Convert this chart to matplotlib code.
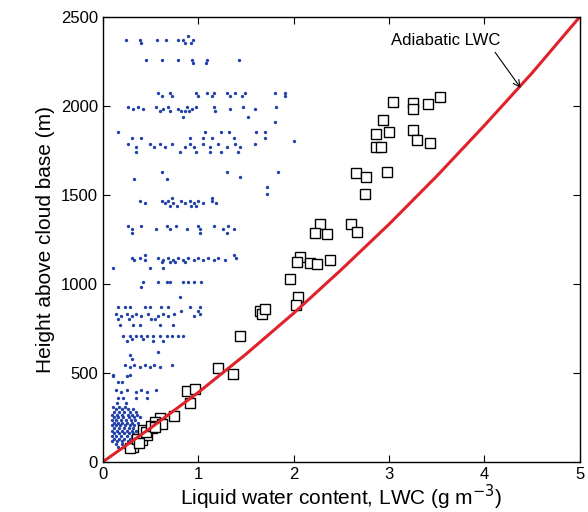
import matplotlib
matplotlib.use('Agg')
import matplotlib.pyplot as plt

plt.rcParams['font.family'] = ['Liberation Sans', 'DejaVu Sans']

# adiabatic LWC profile
adiabatic_lwc = [0, 0.5, 1, 1.5, 2, 2.5, 3, 3.5, 4, 4.5, 5]
adiabatic_height = [0, 190, 390, 605, 835, 1080, 1335, 1605, 1890, 2185, 2500]

# maximum observed LWC per level (open squares)
max_lwc = [3.04, 3.25, 3.25, 3.41, 3.53, 2.94, 3.00, 2.86, 2.86, 2.92, 3.25, 3.29,
           3.43, 2.65, 2.76, 2.98, 2.75, 2.28, 2.22, 2.35, 2.60, 2.66, 2.07, 2.04,
           2.17, 2.24, 2.38, 1.96, 2.05, 2.02, 1.65, 1.67, 1.70, 1.44, 1.21, 1.36,
           0.88, 0.97, 0.91, 0.75, 0.60, 0.55, 0.42, 0.41, 0.46, 0.32, 0.51, 0.28,
           0.36, 0.45, 0.50, 0.62, 0.38, 0.55]
max_height = [2024, 2019, 1985, 2009, 2052, 1918, 1856, 1843, 1767, 1770, 1862, 1809,
              1790, 1622, 1599, 1631, 1506, 1337, 1288, 1281, 1335, 1294, 1153, 1125,
              1116, 1110, 1135, 1030, 925, 882, 845, 832, 858, 708, 526, 493,
              399, 408, 330, 258, 245, 221, 180, 124, 152, 86, 189, 75,
              130, 165, 200, 215, 105, 195]

# individual samples, grouped by flight level
level_height = [2390, 2371, 2355, 2258, 2240, 2073, 2055, 1995, 1982, 1970, 1938, 1910,
                1854, 1820, 1800, 1788, 1770, 1742, 1629, 1600, 1590, 1545, 1506, 1480,
                1468, 1452, 1440, 1326, 1310, 1283, 1160, 1148, 1135, 1122, 1090, 1011,
                980, 927, 871, 850, 832, 818, 800, 770, 708, 690, 680, 618, 600, 580,
                545, 530, 488, 480, 450, 405, 390, 360, 330, 310, 295, 280, 265, 250,
                235, 220, 205, 190, 175, 160, 145, 130, 115, 100, 85]
level_lwc = [
    [0.89],
    [0.24, 0.39, 0.57, 0.66, 0.79, 0.84, 0.94],
    [0.40, 0.86, 0.92],
    [0.45, 0.62, 0.79, 0.93, 1.09, 1.43],
    [0.94, 1.08],
    [0.58, 0.70, 0.98, 1.09, 1.17, 1.30, 1.38, 1.49, 1.80, 1.91],
    [0.62, 0.72, 1.00, 1.14, 1.33, 1.46, 1.91],
    [0.26, 0.37, 0.56, 0.68, 0.88, 0.98, 1.17, 1.47, 1.82],
    [0.32, 0.42, 0.63, 0.79, 0.93, 1.33, 1.59],
    [0.60, 0.70, 0.82, 0.86, 0.90, 1.18],
    [0.84, 1.52],
    [1.80],
    [0.16, 1.07, 1.24, 1.32, 1.61, 1.70],
    [0.30, 0.40, 0.91, 1.05, 1.14, 1.37, 1.70],
    [2.00],
    [0.26, 0.49, 0.60, 0.72, 0.91, 1.05, 1.21, 1.38, 1.59],
    [0.35, 0.54, 0.65, 0.86, 0.96, 1.12, 1.30, 1.44],
    [0.35, 0.81, 0.98, 1.12, 1.24, 1.42],
    [0.62, 1.30, 1.84],
    [1.44],
    [0.33, 0.67],
    [1.72],
    [1.72],
    [0.72, 1.14],
    [0.39, 0.62, 0.68, 0.82, 0.91, 1.00, 1.14],
    [0.44, 0.65, 0.74, 0.86, 0.95, 1.05, 1.19],
    [0.70, 0.78, 0.92, 0.98],
    [0.26, 0.40, 0.67, 0.77, 1.00, 1.17, 1.31],
    [0.30, 0.56, 0.70, 0.88, 1.02, 1.26, 1.37],
    [0.30, 1.02, 1.30],
    [0.44, 1.37],
    [0.30, 0.39, 0.58, 0.68, 0.79, 0.89, 1.00, 1.10, 1.21, 1.40],
    [0.33, 0.44, 0.63, 0.74, 0.84, 0.95, 1.05, 1.16, 1.28],
    [0.62, 0.70, 0.76, 0.86],
    [0.11, 0.49, 0.63],
    [0.42, 0.58, 0.67, 0.70, 0.84, 0.89, 0.96, 1.03],
    [0.40],
    [0.81],
    [0.16, 0.23, 0.28, 0.44, 0.49, 0.61, 0.68, 0.91, 1.02],
    [0.82, 1.00],
    [0.14, 0.25, 0.35, 0.47, 0.63, 0.75, 1.02],
    [0.19, 0.30, 0.40, 0.58, 0.68, 0.95],
    [0.16, 0.27, 0.50, 0.55],
    [0.18, 0.32, 0.39, 0.60, 0.74],
    [0.21, 0.28, 0.35, 0.40, 0.46, 0.53, 0.60, 0.67, 0.72, 0.79, 0.84],
    [0.30, 0.42],
    [0.25, 0.53, 0.63],
    [0.58],
    [0.28],
    [0.30],
    [0.23, 0.33, 0.44, 0.54, 0.72],
    [0.28, 0.39, 0.49, 0.60],
    [0.11, 0.28],
    [0.11, 0.25],
    [0.16, 0.20],
    [0.14, 0.25, 0.40, 0.56],
    [0.19, 0.35, 0.46],
    [0.16, 0.21, 0.35, 0.46],
    [0.15, 0.24],
    [0.11, 0.17, 0.23],
    [0.14, 0.20, 0.26, 0.32],
    [0.12, 0.17, 0.22, 0.28, 0.35],
    [0.10, 0.15, 0.20, 0.26, 0.31, 0.36],
    [0.12, 0.16, 0.21, 0.27, 0.33, 0.39],
    [0.10, 0.14, 0.19, 0.24, 0.29, 0.34],
    [0.12, 0.16, 0.20, 0.25, 0.31, 0.37],
    [0.10, 0.14, 0.18, 0.23, 0.28, 0.33],
    [0.12, 0.17, 0.22, 0.27, 0.32],
    [0.10, 0.15, 0.20, 0.25, 0.30, 0.35],
    [0.12, 0.17, 0.22, 0.27, 0.32],
    [0.10, 0.14, 0.19, 0.25, 0.30],
    [0.12, 0.17, 0.22, 0.28],
    [0.10, 0.15, 0.20, 0.26],
    [0.14, 0.20, 0.26],
    [0.16, 0.22],
]

dots_x = [x for xs in level_lwc for x in xs]
dots_y = [h for h, xs in zip(level_height, level_lwc) for _ in xs]

fig = plt.figure(figsize=(5.88, 5.12), dpi=100)
ax = fig.add_axes([0.175, 0.098, 0.811, 0.869])

ax.plot(dots_x, dots_y, linestyle='none', marker='o', markersize=2.4,
        color='#2140a8', markeredgewidth=0)
ax.plot(max_lwc, max_height, linestyle='none', marker='s', markersize=7.5,
        markerfacecolor='white', markeredgecolor='black', markeredgewidth=1.0)
ax.plot(adiabatic_lwc, adiabatic_height, color='#e0222a', linewidth=2.2)

ax.annotate('Adiabatic LWC', xy=(4.38, 2101), xytext=(3.59, 2365),
            ha='center', va='center', fontsize=12,
            arrowprops=dict(arrowstyle='->', color='black', lw=0.8,
                            relpos=(0.93, 0.0), shrinkA=1, shrinkB=0))

ax.set_xlim(0, 5)
ax.set_ylim(0, 2500)
ax.set_xticks([0, 1, 2, 3, 4, 5])
ax.set_yticks([0, 500, 1000, 1500, 2000, 2500])
ax.tick_params(direction='in', top=True, right=True, length=5, labelsize=12)
ax.set_xlabel('Liquid water content, LWC (g m$^{-3}$)', fontsize=15, labelpad=1)
ax.set_ylabel('Height above cloud base (m)', fontsize=15, labelpad=4)
for s in ax.spines.values():
    s.set_linewidth(1.0)

fig.savefig('out.png', dpi=100)
